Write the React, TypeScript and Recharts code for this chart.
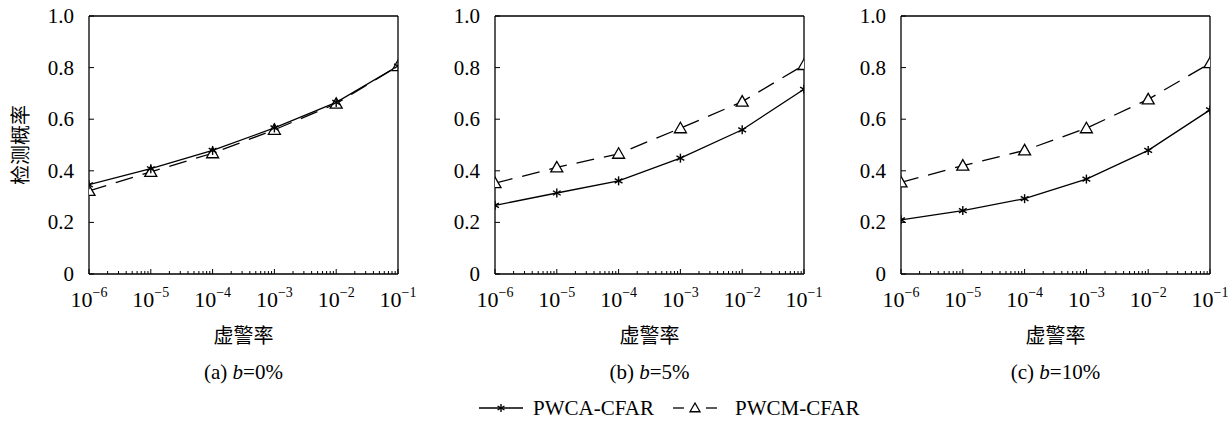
import { LineChart, Line, XAxis, YAxis } from 'recharts';

// false-alarm rates (x) and detection probabilities per panel
const falseAlarm = [1e-6, 1e-5, 1e-4, 1e-3, 1e-2, 1e-1];

const pwcaA = [0.346, 0.408, 0.479, 0.566, 0.665, 0.806];
const pwcmA = [0.322, 0.396, 0.468, 0.559, 0.660, 0.806];
const pwcaB = [0.266, 0.314, 0.361, 0.449, 0.559, 0.716];
const pwcmB = [0.352, 0.413, 0.466, 0.565, 0.668, 0.810];
const pwcaC = [0.210, 0.246, 0.292, 0.368, 0.479, 0.636];
const pwcmC = [0.355, 0.420, 0.479, 0.565, 0.677, 0.817];

const yTicks = [0, 0.2, 0.4, 0.6, 0.8, 1.0];
const decades = [-6, -5, -4, -3, -2];
const xTicks = [...decades.flatMap((e) => [1, 2, 3, 4, 5, 6, 7, 8, 9].map((k) => k * Math.pow(10, e))), 0.1];

const panels = [
  { tag: '(a)', b: '0%', pwca: pwcaA, pwcm: pwcmA, left: 0 },
  { tag: '(b)', b: '5%', pwca: pwcaB, pwcm: pwcmB, left: 406 },
  { tag: '(c)', b: '10%', pwca: pwcaC, pwcm: pwcmC, left: 812 },
];

const SERIF = '"Liberation Serif", "DejaVu Serif", serif';
const CJK = '"Noto Sans CJK SC", sans-serif';
const STROKE = 1.3;

const isMajor = (v: number) => {
  const e = Math.log10(v);
  return Math.abs(e - Math.round(e)) < 1e-6;
};

const Star = ({ cx, cy, r = 4.5 }: { cx: number; cy: number; r?: number }) => {
  const a = r * Math.cos(Math.PI / 6);
  const b = r * Math.sin(Math.PI / 6);
  return (
    <g stroke="#000" strokeWidth={1.4}>
      <line x1={cx} y1={cy - r} x2={cx} y2={cy + r} />
      <line x1={cx - a} y1={cy - b} x2={cx + a} y2={cy + b} />
      <line x1={cx - a} y1={cy + b} x2={cx + a} y2={cy - b} />
    </g>
  );
};

const Tri = ({ cx, cy, s = 6 }: { cx: number; cy: number; s?: number }) => (
  <polygon
    points={`${cx},${cy - s} ${cx - s},${cy + s * 0.75} ${cx + s},${cy + s * 0.75}`}
    fill="#fff"
    stroke="#000"
    strokeWidth={1.3}
    strokeDasharray="none"
  />
);

const BottomTick = (props: any) => {
  const { x, y, payload } = props;
  const major = isMajor(payload.value);
  const e = Math.round(Math.log10(payload.value));
  return (
    <g>
      <line x1={x} x2={x} y1={y} y2={y - (major ? 5 : 3)} stroke="#000" strokeWidth={1} />
      {major && (
        <text x={x} y={y + 33} textAnchor="middle" style={{ fontFamily: SERIF, fontSize: 22 }} fill="#000">
          10
          <tspan dy={-10} style={{ fontSize: 14 }}>
            {'\u2212' + -e}
          </tspan>
        </text>
      )}
    </g>
  );
};

const TopTick = (props: any) => {
  const { x, y, payload } = props;
  const major = isMajor(payload.value);
  return <line x1={x} x2={x} y1={y} y2={y + (major ? 5 : 3)} stroke="#000" strokeWidth={1} />;
};

const LeftTick = (props: any) => {
  const { x, y, payload } = props;
  const v = payload.value as number;
  const label = v === 0 ? '0' : v.toFixed(1);
  return (
    <g>
      <line x1={x} x2={x + 5} y1={y} y2={y} stroke="#000" strokeWidth={1} />
      <text x={x - 15} y={y} dy={7} textAnchor="end" style={{ fontFamily: SERIF, fontSize: 21 }} fill="#000">
        {label}
      </text>
    </g>
  );
};

const RightTick = (props: any) => {
  const { x, y } = props;
  return <line x1={x} x2={x - 5} y1={y} y2={y} stroke="#000" strokeWidth={1} />;
};

function Panel({ pwca, pwcm }: { pwca: number[]; pwcm: number[] }) {
  const data = falseAlarm.map((far, i) => ({ far, pwca: pwca[i], pwcm: pwcm[i] }));
  return (
    <LineChart width={430} height={320} data={data} margin={{ top: 15, right: 31, bottom: 20, left: 0 }}>
      <XAxis
        dataKey="far"
        type="number"
        scale="log"
        domain={[1e-6, 0.1]}
        ticks={xTicks}
        interval={0}
        height={26}
        tickSize={0}
        tickMargin={0}
        tick={<BottomTick />}
        axisLine={{ stroke: '#000', strokeWidth: STROKE }}
        allowDataOverflow
      />
      <XAxis
        xAxisId="top"
        orientation="top"
        type="number"
        scale="log"
        domain={[1e-6, 0.1]}
        ticks={xTicks}
        interval={0}
        height={1}
        tickSize={0}
        tickMargin={0}
        tick={<TopTick />}
        axisLine={{ stroke: '#000', strokeWidth: STROKE }}
        allowDataOverflow
      />
      <YAxis
        type="number"
        domain={[0, 1]}
        ticks={yTicks}
        interval={0}
        width={89}
        tickSize={0}
        tickMargin={0}
        tick={<LeftTick />}
        axisLine={{ stroke: '#000', strokeWidth: STROKE }}
      />
      <YAxis
        yAxisId="right"
        orientation="right"
        type="number"
        domain={[0, 1]}
        ticks={yTicks}
        interval={0}
        width={1}
        tickSize={0}
        tickMargin={0}
        tick={<RightTick />}
        axisLine={{ stroke: '#000', strokeWidth: STROKE }}
      />
      <Line
        type="linear"
        dataKey="pwcm"
        stroke="#000"
        strokeWidth={STROKE}
        strokeDasharray="18 10"
        dot={(p: any) => <Tri key={`m${p.index}`} cx={p.cx} cy={p.cy} />}
        isAnimationActive={false}
      />
      <Line
        type="linear"
        dataKey="pwca"
        stroke="#000"
        strokeWidth={STROKE}
        dot={(p: any) => <Star key={`a${p.index}`} cx={p.cx} cy={p.cy} />}
        isAnimationActive={false}
      />
    </LineChart>
  );
}

export default function App() {
  return (
    <div style={{ position: 'absolute', left: 0, top: 0, width: 1232, height: 421, background: '#fff' }}>
      {panels.map((p) => {
        const cx = p.left + 89 + 154.5;
        return (
          <div key={p.tag}>
            <div style={{ position: 'absolute', left: p.left, top: 0 }}>
              <Panel pwca={p.pwca} pwcm={p.pwcm} />
            </div>
            <div
              style={{
                position: 'absolute', left: cx - 100, top: 322, width: 200, textAlign: 'center',
                fontFamily: CJK, fontSize: 20, lineHeight: '26px', color: '#000',
              }}
            >
              虚警率
            </div>
            <div
              style={{
                position: 'absolute', left: cx - 100, top: 359, width: 200, textAlign: 'center',
                fontFamily: SERIF, fontSize: 21, lineHeight: '26px', color: '#000',
              }}
            >
              {p.tag} <i>b</i>={p.b}
            </div>
          </div>
        );
      })}
      <div
        style={{
          position: 'absolute', left: 20 - 60, top: 145 - 13, width: 120, textAlign: 'center',
          transform: 'rotate(-90deg)', fontFamily: CJK, fontSize: 20, lineHeight: '26px', color: '#000',
        }}
      >
        检测概率
      </div>
      <svg style={{ position: 'absolute', left: 0, top: 395 }} width={1232} height={26}>
        <line x1={479} x2={523} y1={13} y2={13} stroke="#000" strokeWidth={STROKE} />
        <Star cx={501} cy={13} r={4} />
        <text x={533} y={20} fontFamily={SERIF} fontSize={21} fill="#000">PWCA-CFAR</text>
        <line x1={673} x2={684} y1={13} y2={13} stroke="#000" strokeWidth={STROKE} />
        <line x1={706} x2={717} y1={13} y2={13} stroke="#000" strokeWidth={STROKE} />
        <Tri cx={695} cy={13} s={5} />
        <text x={735} y={20} fontFamily={SERIF} fontSize={21} fill="#000">PWCM-CFAR</text>
      </svg>
    </div>
  );
}
